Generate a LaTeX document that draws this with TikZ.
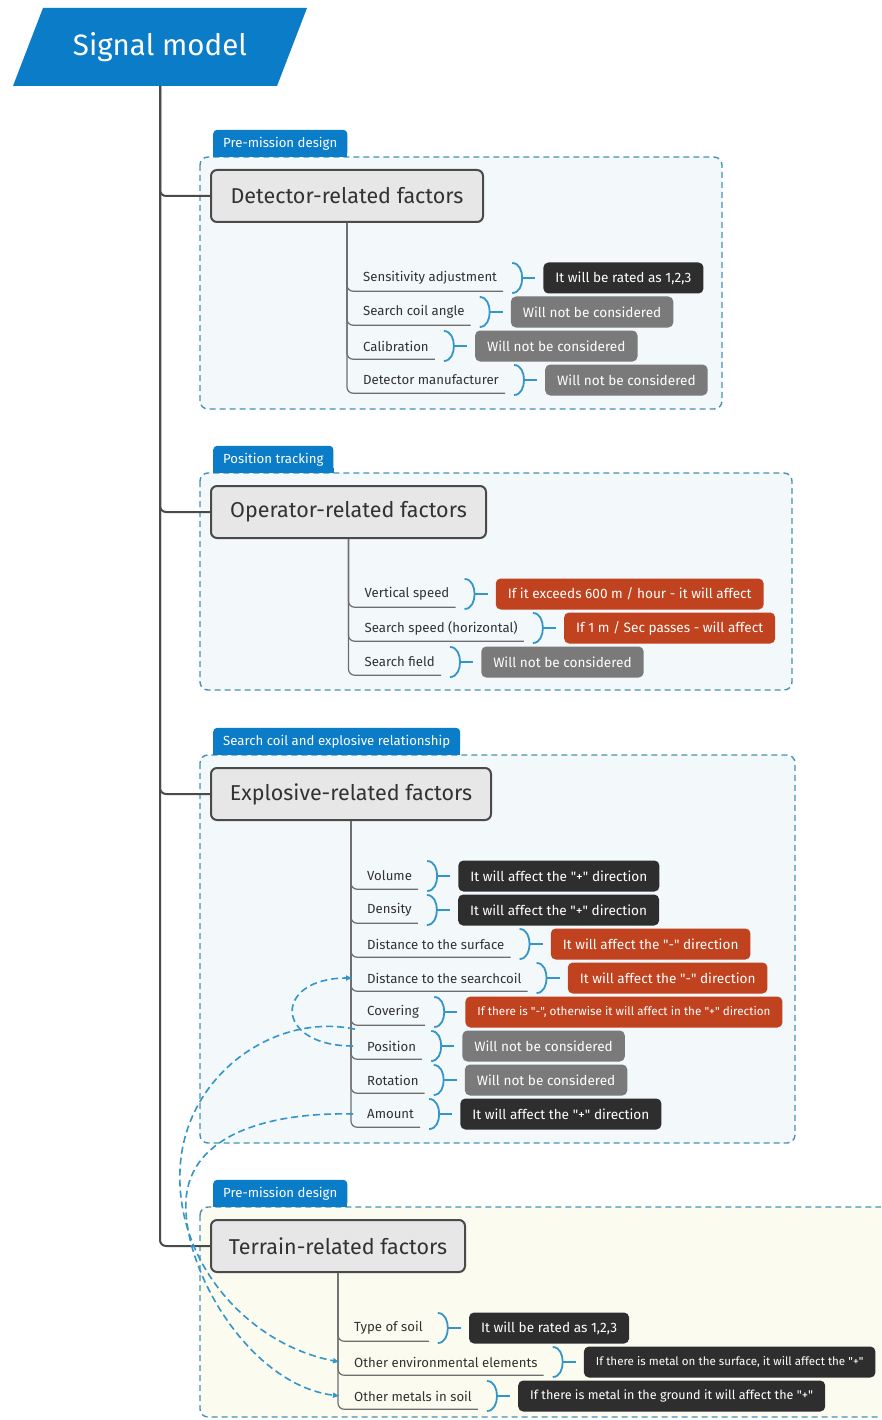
\documentclass[tikz,border=0pt]{standalone}
\usepackage{fontspec}
\setmainfont{Fira Sans}[Ligatures=TeXOff]
\usepackage{tikz}
\usetikzlibrary{shapes.geometric,arrows.meta,positioning,calc}
\definecolor{sigblue}{RGB}{11, 124, 200}
\definecolor{sigdark}{RGB}{46, 46, 46}
\definecolor{siggray}{RGB}{122, 122, 122}
\definecolor{sigred}{RGB}{192, 66, 30}
\definecolor{sigline}{RGB}{74, 74, 74}
\definecolor{sigbox}{RGB}{231, 231, 231}
\definecolor{sigframe}{RGB}{70, 145, 180}
\definecolor{sigpale}{RGB}{243, 248, 251}
\definecolor{sigcream}{RGB}{252, 251, 240}
\definecolor{siglink}{RGB}{52, 150, 200}
\definecolor{sigtext}{RGB}{50, 50, 50}

% bracket between a factor and its outcome
\newcommand{\lnk}[1]{%
  \draw[bracket] ([xshift=-31pt,yshift=15pt]#1.west) to[out=0,in=90] ([xshift=-21pt]#1.west) to[out=-90,in=0] ([xshift=-31pt,yshift=-15pt]#1.west);
  \draw[bracket] ([xshift=-21pt]#1.west) -- ([xshift=-8pt]#1.west);}

\begin{document}
\begin{tikzpicture}[
    x=1pt, y=1pt,
    every node/.style={align=center},
    mainbox/.style={rectangle, draw=sigline, fill=sigbox, line width=2pt, rounded corners=6pt, minimum height=52pt, anchor=west, inner xsep=8pt, font=\fontsize{21.5}{24}\selectfont, text=sigtext},
    tagbox/.style={rectangle, fill=sigblue, rounded corners=4pt, minimum height=27pt, inner xsep=10pt, anchor=south west, text=white, font=\fontsize{13.2}{15}\selectfont},
    item/.style={anchor=west, inner xsep=6pt, inner ysep=0pt, minimum height=26pt, font=\fontsize{13.2}{15}\selectfont, text=sigtext},
    res/.style={rectangle, rounded corners=5pt, minimum height=31pt, inner xsep=12pt, text=white, font=\fontsize{13.6}{15}\selectfont},
    resdark/.style={res, fill=sigdark},
    resgray/.style={res, fill=siggray},
    resred/.style={res, fill=sigred},
    groupframe/.style={draw=sigframe, line width=1.4pt, dash pattern=on 6pt off 4pt, rounded corners=8pt, fill=sigpale},
    trunk/.style={draw=sigline, line width=2pt, rounded corners=6pt},
    branch/.style={draw=sigline!80, line width=1.2pt, rounded corners=6pt},
    bracket/.style={draw=siglink, line width=1.8pt},
    relation/.style={draw=siglink, line width=1.6pt, dash pattern=on 7pt off 4pt, -{Latex[length=7pt,width=6pt]}}
]
    \useasboundingbox (0,0) rectangle (881,-1420);
    \fill[white] (0,0) rectangle (881,-1420);
    \clip (0,0) rectangle (881,-1420);

    % groups
    \filldraw[groupframe] (200,-157) rectangle (722,-409);
    \filldraw[groupframe] (200,-473) rectangle (792,-690);
    \filldraw[groupframe] (200,-755) rectangle (795,-1143);
    \filldraw[groupframe, fill=sigcream] (200,-1207) rectangle (905,-1417);

    \node[tagbox] (tag1) at (213,-157) {Pre-mission design};
    \node[tagbox] (tag2) at (213,-473) {Position tracking};
    \node[tagbox] (tag3) at (213,-755) {Search coil and explosive relationship};
    \node[tagbox] (tag4) at (213,-1207) {Pre-mission design};
    \foreach \t in {1,...,4}
        \fill[sigblue] (tag\t.south west) rectangle ([yshift=5pt]tag\t.south east);

    % root
    \fill[sigblue] (43,-8) -- (307,-8) -- (277,-86) -- (13,-86) -- cycle;
    \node[font=\fontsize{29.5}{33}\selectfont, text=white, minimum height=78pt] (title) at (160,-47) {Signal model};

    \node[mainbox, minimum width=272pt] (det) at (210,-196) {Detector-related factors};
    \node[mainbox, minimum width=275pt] (op) at (210,-512) {Operator-related factors};
    \node[mainbox, minimum width=280pt] (expl) at (210,-794) {Explosive-related factors};
    \node[mainbox, minimum width=254pt] (ter) at (210,-1246) {Terrain-related factors};

    \draw[trunk] (title.south) |- (det.west);
    \draw[trunk] (title.south) |- (op.west);
    \draw[trunk] (title.south) |- (expl.west);
    \draw[trunk] (title.south) |- (ter.west);

    % detector
    \node[item] (d1) at ([xshift=10pt,yshift=-55pt]det.south) {Sensitivity adjustment};
    \node[item] (d2) at ([yshift=-34pt]d1.west) {Search coil angle};
    \node[item] (d3) at ([yshift=-34pt]d2.west) {Calibration};
    \node[item] (d4) at ([yshift=-34pt]d3.west) {Detector manufacturer};
    \node[resdark, right=40pt of d1] (dr1) {It will be rated as 1,2,3};
    \node[resgray, right=40pt of d2] (dr2) {Will not be considered};
    \node[resgray, right=40pt of d3] (dr3) {Will not be considered};
    \node[resgray, right=40pt of d4] (dr4) {Will not be considered};
    \foreach \i in {1,...,4} {
        \draw[branch] (det.south) |- (d\i.south east);
        \lnk{dr\i}
    }

    % operator
    \node[item] (o1) at ([xshift=10pt,yshift=-55pt]op.south) {Vertical speed};
    \node[item] (o2) at ([yshift=-34pt]o1.west) {Search speed (horizontal)};
    \node[item] (o3) at ([yshift=-34pt]o2.west) {Search field};
    \node[resred, right=40pt of o1] (or1) {If it exceeds 600 m / hour - it will affect};
    \node[resred, right=40pt of o2] (or2) {If 1 m / Sec passes - will affect};
    \node[resgray, right=40pt of o3] (or3) {Will not be considered};
    \foreach \i in {1,...,3} {
        \draw[branch] (op.south) |- (o\i.south east);
        \lnk{or\i}
    }

    % explosive
    \node[item] (e1) at ([xshift=10pt,yshift=-55pt]expl.south) {Volume};
    \node[item] (e2) at ([yshift=-34pt]e1.west) {Density};
    \node[item] (e3) at ([yshift=-34pt]e2.west) {Distance to the surface};
    \node[item] (e4) at ([yshift=-34pt]e3.west) {Distance to the searchcoil};
    \node[item] (e5) at ([yshift=-34pt]e4.west) {Covering};
    \node[item] (e6) at ([yshift=-34pt]e5.west) {Position};
    \node[item] (e7) at ([yshift=-34pt]e6.west) {Rotation};
    \node[item] (e8) at ([yshift=-34pt]e7.west) {Amount};
    \node[resdark, right=40pt of e1] (er1) {It will affect the "+" direction};
    \node[resdark, right=40pt of e2] (er2) {It will affect the "+" direction};
    \node[resred, right=40pt of e3] (er3) {It will affect the "-" direction};
    \node[resred, right=40pt of e4] (er4) {It will affect the "-" direction};
    \node[resred, right=40pt of e5, font=\fontsize{11.7}{13}\selectfont] (er5) {If there is "-", otherwise it will affect in the "+" direction};
    \node[resgray, right=40pt of e6] (er6) {Will not be considered};
    \node[resgray, right=40pt of e7] (er7) {Will not be considered};
    \node[resdark, right=40pt of e8] (er8) {It will affect the "+" direction};
    \foreach \i in {1,...,8} {
        \draw[branch] (expl.south) |- (e\i.south east);
        \lnk{er\i}
    }

    % terrain
    \node[item] (t1) at ([xshift=10pt,yshift=-55pt]ter.south) {Type of soil};
    \node[item] (t2) at ([yshift=-34pt]t1.west) {Other environmental elements};
    \node[item] (t3) at ([yshift=-34pt]t2.west) {Other metals in soil};
    \node[resdark, right=40pt of t1] (tr1) {It will be rated as 1,2,3};
    \node[resdark, right=40pt of t2, font=\fontsize{11.6}{13}\selectfont] (tr2) {If there is metal on the surface, it will affect the "+"};
    \node[resdark, right=40pt of t3, font=\fontsize{12.6}{14}\selectfont] (tr3) {If there is metal in the ground it will affect the "+"};
    \foreach \i in {1,...,3} {
        \draw[branch] (ter.south) |- (t\i.south east);
        \lnk{tr\i}
    }

    % relationships
    \draw[relation] ([xshift=-8pt]e6.west) .. controls +(-80,0) and +(-80,0) .. ([xshift=-8pt]e4.west);
    \draw[relation] ([xshift=-6pt,yshift=-4pt]e5.south west) .. controls (275,-1012) and (184,-1075) .. (180,-1170)
        .. controls (176,-1265) and (250,-1345) .. ([xshift=-8pt]t2.west);
    \draw[relation] ([xshift=-8pt]e8.west) .. controls (268,-1112) and (190,-1135) .. (186,-1200)
        .. controls (182,-1270) and (250,-1385) .. ([xshift=-8pt]t3.west);
\end{tikzpicture}
\end{document}
